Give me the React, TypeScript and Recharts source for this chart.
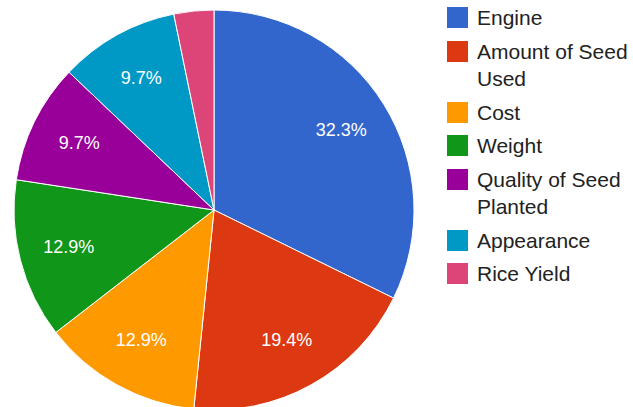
import { PieChart, Pie, Cell, Legend } from 'recharts'

const categories = ['Engine', 'Amount of Seed Used', 'Cost', 'Weight', 'Quality of Seed Planted', 'Appearance', 'Rice Yield']
const counts = [10, 6, 4, 4, 3, 3, 1]
const colors = ['#3366cc', '#dc3912', '#ff9900', '#109618', '#990099', '#0099c6', '#dd4477']

const data = categories.map((name, i) => ({ name, value: counts[i] }))
const total = counts.reduce((a, b) => a + b, 0)

const RADIAN = Math.PI / 180

// eslint-disable-next-line @typescript-eslint/no-explicit-any
function SliceLabel({ cx, cy, midAngle, outerRadius, value }: any) {
  const pct = (value / total) * 100
  // google hides text on tiny slices
  if (pct < 5) return null
  const r = outerRadius * 0.75
  const x = cx + r * Math.cos(-midAngle * RADIAN)
  const y = cy + r * Math.sin(-midAngle * RADIAN) - 1
  return (
    <text
      x={x}
      y={y}
      fill="#ffffff"
      textAnchor="middle"
      dominantBaseline="central"
      fontSize={18}
      fontFamily="Arial, 'Liberation Sans', sans-serif"
    >
      {pct.toFixed(1)}%
    </text>
  )
}

function LegendContent() {
  return (
    <div style={{ fontFamily: "Arial, 'Liberation Sans', sans-serif", fontSize: 21, color: '#222222' }}>
      {categories.map((name, i) => (
        <div key={name} style={{ display: 'flex', alignItems: 'flex-start', marginBottom: 6, lineHeight: '27.5px' }}>
          <div
            style={{
              width: 21,
              height: 21,
              background: colors[i],
              marginTop: 3,
              marginRight: 9,
              flexShrink: 0,
            }}
          />
          <div style={{ width: 156 }}>{name}</div>
        </div>
      ))}
    </div>
  )
}

export default function App() {
  return (
    <div style={{ position: 'absolute', left: 0, top: 0, background: '#ffffff' }}>
      <PieChart width={633} height={407} margin={{ top: 0, right: 0, bottom: 0, left: 0 }}>
        <Pie
          data={data}
          dataKey="value"
          nameKey="name"
          cx={214}
          cy={210}
          outerRadius={200}
          startAngle={90}
          endAngle={-270}
          stroke="#ffffff"
          strokeWidth={1}
          label={SliceLabel}
          labelLine={false}
          isAnimationActive={false}
        >
          {data.map((d, i) => (
            <Cell key={d.name} fill={colors[i]} />
          ))}
        </Pie>
        <Legend
          layout="vertical"
          verticalAlign="top"
          align="right"
          content={<LegendContent />}
          wrapperStyle={{ left: 447, top: 4, width: 186 }}
        />
      </PieChart>
    </div>
  )
}
